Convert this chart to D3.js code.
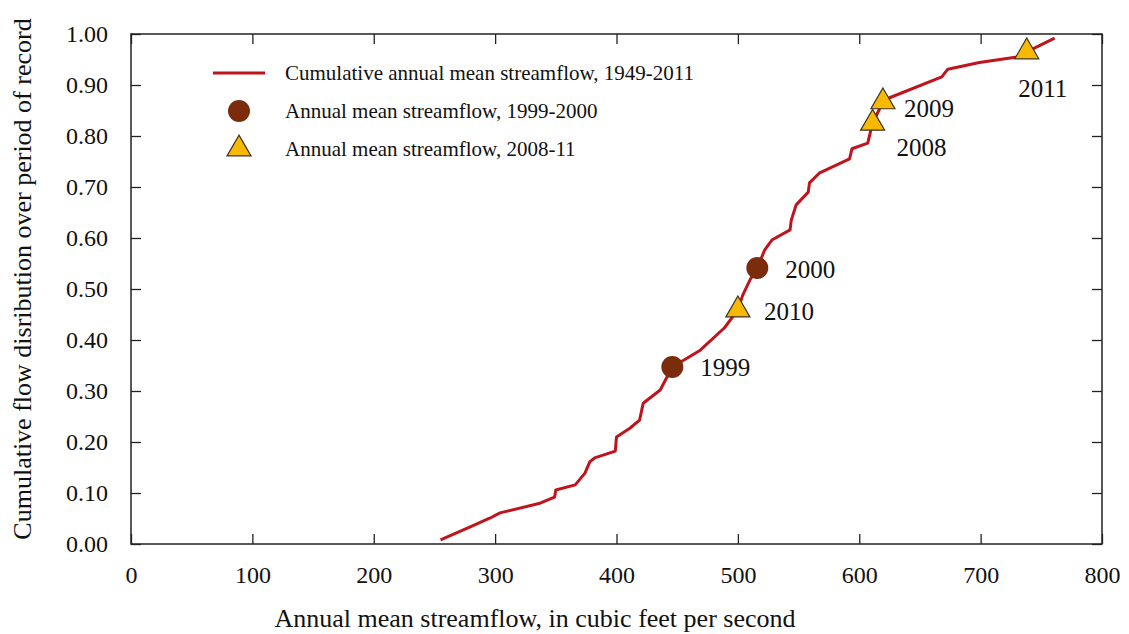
<!DOCTYPE html>
<html>
<head>
<meta charset="utf-8">
<script src="https://cdn.jsdelivr.net/npm/d3@7"></script>
<style>
  body { margin: 0; background: #fff; }
  svg text { font-family: "Liberation Serif", "Times New Roman", serif; fill: #111; }
</style>
</head>
<body>
<div id="chart"></div>
<script>
// Cumulative annual mean streamflow - step-ish distribution curve

const flowCfs = [255, 279, 296, 304, 337, 349, 350, 366, 374, 378, 382, 399, 400, 411, 419, 422, 436, 446,
  469, 489, 500, 504, 510, 516, 522, 528, 543, 544, 548, 558, 559, 567, 592, 594, 607, 609, 611, 619.5,
  625, 668, 673, 699, 730, 738, 761];
const cumFrac = [0.008, 0.033, 0.051, 0.061, 0.080, 0.092, 0.106, 0.116, 0.139, 0.161, 0.169, 0.182, 0.21,
  0.227, 0.243, 0.276, 0.302, 0.347, 0.380, 0.424, 0.459, 0.488, 0.518, 0.541, 0.576, 0.596, 0.616, 0.635,
  0.665, 0.69, 0.708, 0.727, 0.755, 0.775, 0.786, 0.806, 0.825, 0.867, 0.875, 0.916, 0.931, 0.944, 0.955,
  0.965, 0.992];

const circleYears = [1999, 2000];
const circleFlow = [446, 516];
const circleFrac = [0.347, 0.541];

const triYears = [2008, 2009, 2010, 2011];
const triFlow = [611, 619.5, 500, 738];
const triFrac = [0.825, 0.867, 0.459, 0.965];

const xTicks = [0, 100, 200, 300, 400, 500, 600, 700, 800];
const yTicks = [0, 0.1, 0.2, 0.3, 0.4, 0.5, 0.6, 0.7, 0.8, 0.9, 1.0];

const legendLabels = [
  "Cumulative annual mean streamflow, 1949-2011",
  "Annual mean streamflow, 1999-2000",
  "Annual mean streamflow, 2008-11"
];

const width = 1129, height = 634;
const margin = { top: 34, right: 27, bottom: 90, left: 131 };
const w = width - margin.left - margin.right;
const h = height - margin.top - margin.bottom;

const lineColor = "#c0141c";
const circleColor = "#7a2c0c";
const triColor = "#f8b900";

const svg = d3.select("#chart").append("svg")
  .attr("width", width)
  .attr("height", height);

const g = svg.append("g")
  .attr("transform", `translate(${margin.left},${margin.top})`);

const x = d3.scaleLinear().domain([0, 800]).range([0, w]);
const y = d3.scaleLinear().domain([0, 1]).range([h, 0]);

// frame
g.append("rect")
  .attr("width", w).attr("height", h)
  .attr("fill", "none").attr("stroke", "#222").attr("stroke-width", 1.5);

// axes with inward ticks
const xAxis = g.append("g").attr("transform", `translate(0,${h})`)
  .call(d3.axisBottom(x).tickValues(xTicks).tickSizeInner(-10).tickSizeOuter(0).tickPadding(22).tickFormat(d3.format("d")));
const yAxis = g.append("g")
  .call(d3.axisLeft(y).tickValues(yTicks).tickSizeInner(-10).tickSizeOuter(0).tickPadding(23).tickFormat(d3.format(".2f")));
g.append("g")
  .call(d3.axisTop(x).tickValues(xTicks).tickSizeInner(-10).tickSizeOuter(0).tickFormat(""));
g.append("g").attr("transform", `translate(${w},0)`)
  .call(d3.axisRight(y).tickValues(yTicks).tickSizeInner(-10).tickSizeOuter(0).tickFormat(""));

g.selectAll(".domain").remove();
g.selectAll(".tick line").attr("stroke", "#222").attr("stroke-width", 1.3);
xAxis.selectAll("text").style("font-size", "24px").attr("font-family", null);
yAxis.selectAll("text").style("font-size", "24px").attr("font-family", null);

// curve
const pts = flowCfs.map((v, i) => [v, cumFrac[i]]);
g.append("path")
  .datum(pts)
  .attr("fill", "none")
  .attr("stroke", lineColor)
  .attr("stroke-width", 3)
  .attr("stroke-linejoin", "round")
  .attr("d", d3.line().x(d => x(d[0])).y(d => y(d[1])));

// markers
const triangle = d3.symbol().type(d3.symbolTriangle).size(250);

g.selectAll(".circ")
  .data(circleYears)
  .join("circle")
  .attr("cx", (d, i) => x(circleFlow[i]))
  .attr("cy", (d, i) => y(circleFrac[i]))
  .attr("r", 11)
  .attr("fill", circleColor);

g.selectAll(".tri")
  .data(triYears)
  .join("path")
  .attr("transform", (d, i) => `translate(${x(triFlow[i])},${y(triFrac[i])})`)
  .attr("d", triangle)
  .attr("fill", triColor)
  .attr("stroke", "#3b3320")
  .attr("stroke-width", 1.2);

// year labels
const labelOffset = {
  1999: [28, 9, "start"], 2000: [28, 10, "start"], 2010: [26, 10, "start"],
  2008: [24, 33, "start"], 2009: [21, 15, "start"], 2011: [16, 45, "middle"]
};
const yearPts = circleYears.map((yr, i) => ({ yr, v: circleFlow[i], f: circleFrac[i] }))
  .concat(triYears.map((yr, i) => ({ yr, v: triFlow[i], f: triFrac[i] })));

g.selectAll(".yr")
  .data(yearPts)
  .join("text")
  .attr("x", d => x(d.v) + labelOffset[d.yr][0])
  .attr("y", d => y(d.f) + labelOffset[d.yr][1])
  .attr("text-anchor", d => labelOffset[d.yr][2])
  .style("font-size", "25px")
  .text(d => d.yr);

// legend
const leg = svg.append("g");
leg.append("line")
  .attr("x1", 213).attr("x2", 265).attr("y1", 73).attr("y2", 73)
  .attr("stroke", lineColor).attr("stroke-width", 3);
leg.append("circle")
  .attr("cx", 239).attr("cy", 111).attr("r", 11).attr("fill", circleColor);
leg.append("path")
  .attr("transform", "translate(239,149)")
  .attr("d", triangle)
  .attr("fill", triColor).attr("stroke", "#3b3320").attr("stroke-width", 1.2);
leg.selectAll("text")
  .data(legendLabels)
  .join("text")
  .attr("x", 285)
  .attr("y", (d, i) => 80 + i * 38)
  .style("font-size", "21px")
  .text(d => d);

// axis titles
svg.append("text")
  .attr("x", 535).attr("y", 627)
  .attr("text-anchor", "middle")
  .style("font-size", "26px")
  .text("Annual mean streamflow, in cubic feet per second");

svg.append("text")
  .attr("transform", "translate(31,279) rotate(-90)")
  .attr("text-anchor", "middle")
  .style("font-size", "26px")
  .text("Cumulative flow disribution over period of record");
</script>
</body>
</html>
